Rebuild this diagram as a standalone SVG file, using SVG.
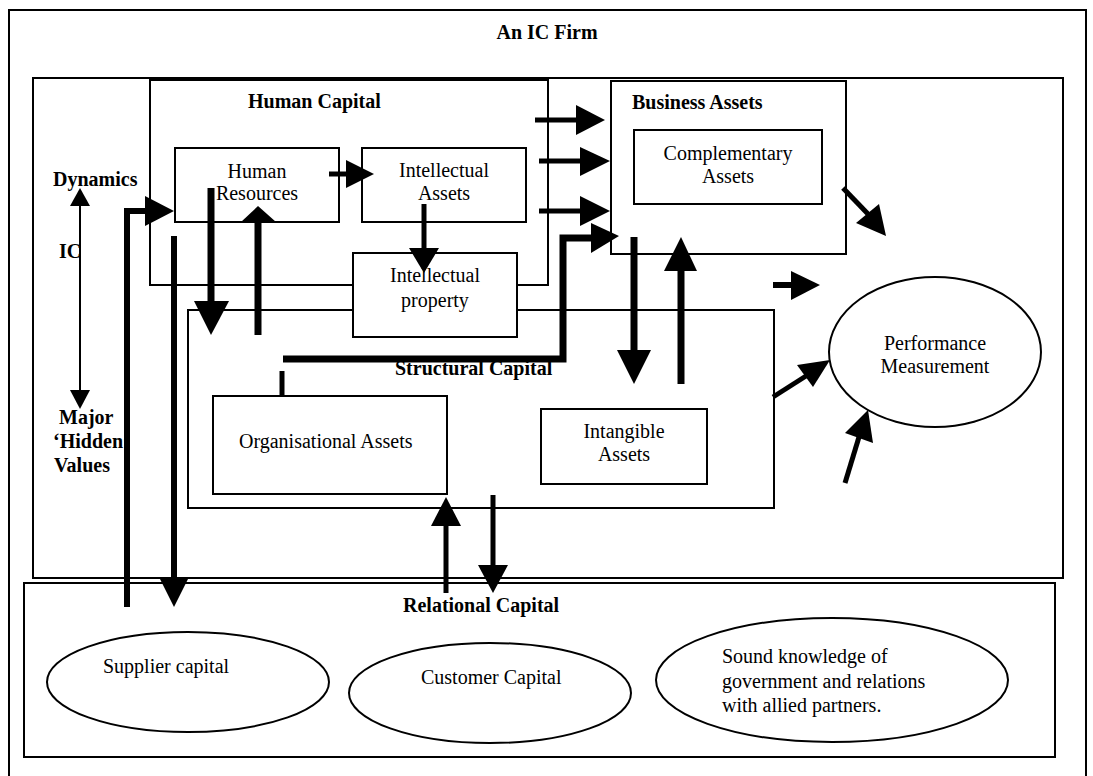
<svg xmlns="http://www.w3.org/2000/svg" width="1093" height="776" viewBox="0 0 1093 776">
<style>
.box{fill:#fff;stroke:#000;stroke-width:2}
.frame{fill:none;stroke:#000;stroke-width:2}
.ell{fill:#fff;stroke:#000;stroke-width:2}
text{font-family:"Liberation Serif","Times New Roman",serif;font-size:20px;fill:#000}
.b{font-weight:bold}
.c{text-anchor:middle}
.ln{fill:none;stroke:#000;stroke-linecap:butt;stroke-linejoin:miter}
.w5{stroke-width:5}
.w6{stroke-width:6}
.w7{stroke-width:7}
.thin{stroke-width:2}
.hd{fill:#000;stroke:none}
</style>
<rect width="1093" height="776" fill="#fff"/>
<g id="outer-frame">
<path class="frame" d="M9,790 V10 H1086 V790"/>
<text class="b c" x="547" y="39">An IC Firm</text>
</g>
<g id="firm-box"><rect class="box" x="33" y="78" width="1030" height="500"/></g>
<g id="dynamics-label">
<text class="b" x="53" y="186">Dynamics</text>
<text class="b" x="59" y="258">IC</text>
<text class="b" x="59" y="424">Major</text>
<text class="b" x="53" y="448">‘Hidden’</text>
<text class="b" x="54" y="472">Values</text>
</g>
<g id="human-capital"><rect class="box" x="150" y="80" width="398" height="205"/>
<text class="b" x="248" y="108">Human Capital</text></g>
<g id="structural-capital"><rect class="box" x="188" y="310" width="586" height="198"/>
<text class="b" x="395" y="375">Structural Capital</text></g>
<g id="human-resources"><rect class="box" x="175" y="148" width="164" height="74"/>
<text class="c" x="257" y="178">Human</text><text class="c" x="257" y="200">Resources</text></g>
<g id="intellectual-assets"><rect class="box" x="362" y="148" width="164" height="74"/>
<text class="c" x="444" y="177">Intellectual</text><text class="c" x="444" y="200">Assets</text></g>
<g id="intellectual-property"><rect class="box" x="353" y="253" width="164" height="84"/>
<text class="c" x="435" y="282">Intellectual</text><text class="c" x="435" y="307">property</text></g>
<g id="business-assets"><rect class="box" x="611" y="81" width="235" height="173"/>
<text class="b" x="632" y="109">Business Assets</text></g>
<g id="complementary-assets"><rect class="box" x="634" y="130" width="188" height="74"/>
<text class="c" x="728" y="160">Complementary</text><text class="c" x="728" y="183">Assets</text></g>
<g id="organisational-assets"><rect class="box" x="213" y="396" width="234" height="98"/>
<text x="239" y="448">Organisational Assets</text></g>
<g id="intangible-assets"><rect class="box" x="541" y="409" width="166" height="75"/>
<text class="c" x="624" y="438">Intangible</text><text class="c" x="624" y="461">Assets</text></g>
<g id="performance-measurement"><ellipse class="ell" cx="935" cy="352" rx="106" ry="75"/>
<text class="c" x="935" y="350">Performance</text><text class="c" x="935" y="373">Measurement</text></g>
<g id="relational-capital"><rect class="box" x="24" y="583" width="1031" height="174"/>
<text class="b" x="403" y="612">Relational Capital</text></g>
<g id="supplier-capital"><ellipse class="ell" cx="188" cy="682" rx="141" ry="50"/>
<text x="103" y="673">Supplier capital</text></g>
<g id="customer-capital"><ellipse class="ell" cx="490" cy="693" rx="141" ry="50"/>
<text x="421" y="684">Customer Capital</text></g>
<g id="government-relations"><ellipse class="ell" cx="832" cy="680" rx="176" ry="62"/>
<text x="722" y="663">Sound knowledge of</text><text x="722" y="688">government and relations</text><text x="722" y="712">with allied partners.</text></g>
<g id="connectors">
<!-- IC dynamics double arrow -->
<line class="ln thin" x1="80" y1="204" x2="80" y2="392"/>
<polygon class="hd" points="80,188 90,206 70,206"/>
<polygon class="hd" points="80,409 90,390 70,390"/>
<!-- HR -> IA -->
<line class="ln w5" x1="329" y1="174" x2="347" y2="174"/>
<polygon class="hd" points="346,160 374,174 346,188"/>
<!-- up into HR -->
<line class="ln w7" x1="258" y1="335" x2="258" y2="221"/>
<polygon class="hd" points="258,206 276,222 241,222"/>
<!-- down from HR -->
<line class="ln w7" x1="211" y1="188" x2="211" y2="302"/>
<polygon class="hd" points="194,301 229,301 211,335"/>
<!-- elbow from relational into HR -->
<polyline class="ln w6" points="127,607 127,211 146,211"/>
<polygon class="hd" points="145,196 174,211 145,226"/>
<!-- down to relational -->
<line class="ln w6" x1="174" y1="236" x2="174" y2="578"/>
<polygon class="hd" points="159,577 189,577 174,607"/>
<!-- IA -> IP -->
<line class="ln w5" x1="424" y1="204" x2="424" y2="249"/>
<polygon class="hd" points="409,248 439,248 424,273"/>
<!-- three arrows into business assets -->
<line class="ln w5" x1="535" y1="120" x2="577" y2="120"/>
<polygon class="hd" points="576,105 605,120 576,135"/>
<line class="ln w5" x1="539" y1="161" x2="581" y2="161"/>
<polygon class="hd" points="580,147 610,161 580,176"/>
<line class="ln w5" x1="539" y1="211" x2="581" y2="211"/>
<polygon class="hd" points="580,196 610,211 580,226"/>
<!-- organisational -> business elbow -->
<line class="ln w5" x1="282" y1="371" x2="282" y2="396"/>
<polyline class="ln w7" points="283,359 563,359 563,238 592,238"/>
<polygon class="hd" points="591,223 619,236 591,253"/>
<!-- business -> intangible -->
<line class="ln w7" x1="634" y1="237" x2="634" y2="351"/>
<polygon class="hd" points="617,350 651,350 634,384"/>
<!-- intangible -> business -->
<line class="ln w7" x1="681" y1="384" x2="681" y2="270"/>
<polygon class="hd" points="681,237 697,271 664,271"/>
<!-- business -> performance diagonal -->
<line class="ln w5" x1="843" y1="188" x2="868" y2="214"/>
<polygon class="hd" points="856,223 879,204 886,236"/>
<!-- small right arrow -->
<line class="ln w6" x1="773" y1="285" x2="792" y2="285"/>
<polygon class="hd" points="791,271 820,285 791,300"/>
<!-- structural -> performance -->
<line class="ln w5" x1="773" y1="397" x2="806" y2="376"/>
<polygon class="hd" points="797,365 830,360 813,387"/>
<!-- from below into performance -->
<line class="ln w5" x1="845" y1="483" x2="859" y2="437"/>
<polygon class="hd" points="845,433 868,410 873,443"/>
<!-- relational -> organisational -->
<line class="ln w5" x1="446" y1="593" x2="446" y2="525"/>
<polygon class="hd" points="446,497 461,526 431,526"/>
<!-- structural -> relational -->
<line class="ln w5" x1="493" y1="495" x2="493" y2="566"/>
<polygon class="hd" points="478,565 508,565 493,593"/>
</g>
</svg>
